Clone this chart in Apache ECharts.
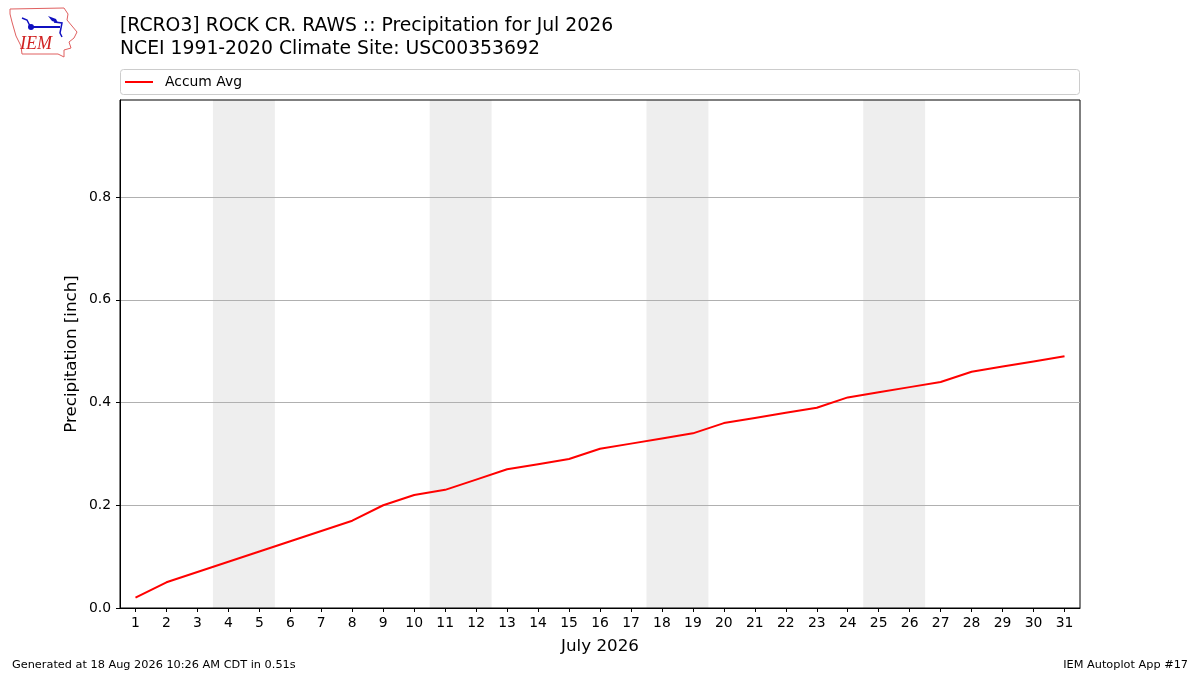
<!DOCTYPE html>
<html><head><meta charset="utf-8">
<script src="https://cdn.jsdelivr.net/npm/echarts@6/dist/echarts.min.js"></script>
<style>html,body{margin:0;padding:0;background:#fff}#c{width:1200px;height:675px}</style>
</head><body><div id="c"></div>
<script>
const days = [1,2,3,4,5,6,7,8,9,10,11,12,13,14,15,16,17,18,19,20,21,22,23,24,25,26,27,28,29,30,31];
const accumAvg = [0.02,0.05,0.07,0.09,0.11,0.13,0.15,0.17,0.20,0.22,0.23,0.25,0.27,0.28,0.29,0.31,0.32,0.33,0.34,0.36,0.37,0.38,0.39,0.41,0.42,0.43,0.44,0.46,0.47,0.48,0.49];
const weekendStarts = [4,11,18,25]; // Saturdays
const yTicks = [0,0.2,0.4,0.6,0.8];
const titleLines = ['[RCRO3] ROCK CR. RAWS :: Precipitation for Jul 2026','NCEI 1991-2020 Climate Site: USC00353692'];

const font = 'DejaVu Sans';
const chart = echarts.init(document.getElementById('c'), null, {renderer:'canvas'});
const areas = weekendStarts.map(d => [{xAxis: d-0.5}, {xAxis: d+1.5}]);
chart.setOption({
  animation:false,
  backgroundColor:'#fff',
  textStyle:{fontFamily:font},
  title:[
    {text:titleLines[0], left:115, top:12, textStyle:{fontFamily:font,fontSize:18.8,fontWeight:'normal',color:'#000'}},
    {text:titleLines[1], left:115, top:35, textStyle:{fontFamily:font,fontSize:18.8,fontWeight:'normal',color:'#000'}}
  ],
  legend:{left:120, top:70, icon:'rect', itemWidth:28, itemHeight:2, itemGap:10,
    textStyle:{fontFamily:font,fontSize:13.9,color:'#000',padding:[0,0,0,7]}, data:['Accum Avg']},
  grid:{left:120, right:120, top:100, bottom:67, show:true, borderColor:'#000', borderWidth:1, containLabel:false},
  xAxis:{type:'value', min:0.5, max:31.5,
    name:'July 2026', nameLocation:'middle', nameGap:30,
    nameTextStyle:{fontFamily:font,fontSize:16.7,color:'#000'},
    axisLine:{show:true,lineStyle:{color:'#000'}},
    axisTick:{show:true, inside:false, length:4, lineStyle:{color:'#000'}, customValues:days},
    axisLabel:{fontFamily:font,fontSize:13.9,color:'#000',margin:8, customValues:days},
    splitLine:{show:false}},
  yAxis:{type:'value', min:0, max:0.989, interval:0.2,
    name:'Precipitation [inch]', nameLocation:'middle', nameGap:40, nameMoveOverlap:false,
    nameTextStyle:{fontFamily:font,fontSize:16.7,color:'#000'},
    axisLine:{show:true,lineStyle:{color:'#000'}},
    axisTick:{show:true, length:4, lineStyle:{color:'#000'}, customValues:yTicks},
    axisLabel:{fontFamily:font,fontSize:13.9,color:'#000',margin:9, customValues:yTicks, formatter:v=>v.toFixed(1)},
    splitLine:{show:true,lineStyle:{color:'#b0b0b0',width:1}}},
  graphic:[
    {type:'rect', shape:{x:120.5,y:69.5,width:959,height:25,r:3}, style:{fill:'none',stroke:'#cccccc',lineWidth:1}, z:-1},
    {type:'polyline', shape:{points:[[10,9],[64,8],[68,14],[67,20],[72,26],[77,32],[74,38],[69,42],[71,48],[64,50],[64,57],[58,54],[22,54],[21,46],[16,36],[12,22],[10,14],[10,9]]}, style:{stroke:'#e06060',fill:'none',lineWidth:1}},
    {type:'text', left:20, top:35, style:{text:'IEM', font:'italic 18px "Liberation Serif"', fill:'#d02020'}},
    {type:'polyline', shape:{points:[[30,27],[60,27]]}, style:{stroke:'#1010c0',lineWidth:2}},
    {type:'circle', shape:{cx:31,cy:27,r:3}, style:{fill:'#1010c0'}},
    {type:'polyline', shape:{points:[[22,18],[27,20],[30,26]]}, style:{stroke:'#1010c0',lineWidth:1.5,fill:'none'}},
    {type:'polygon', shape:{points:[[48,16],[56,19],[58,23],[52,21]]}, style:{fill:'#1010c0'}},
    {type:'polyline', shape:{points:[[54,22],[62,23],[60,33],[62,37]]}, style:{stroke:'#1010c0',lineWidth:1.5,fill:'none'}},
    {type:'text', left:12, top:660, style:{text:'Generated at 18 Aug 2026 10:26 AM CDT in 0.51s', font:'11.3px "DejaVu Sans"', fill:'#000'}},
    {type:'text', right:12, top:660, style:{text:'IEM Autoplot App #17', font:'11.3px "DejaVu Sans"', fill:'#000'}}
  ],
  series:[{
    name:'Accum Avg', type:'line', data:days.map((d,i)=>[d,accumAvg[i]]),
    showSymbol:false, symbol:'none', lineStyle:{color:'#ff0000',width:2}, itemStyle:{color:'#ff0000'},
    markArea:{silent:true, itemStyle:{color:'#eeeeee'}, data:areas, z:-1}
  }]
});
</script></body></html>
